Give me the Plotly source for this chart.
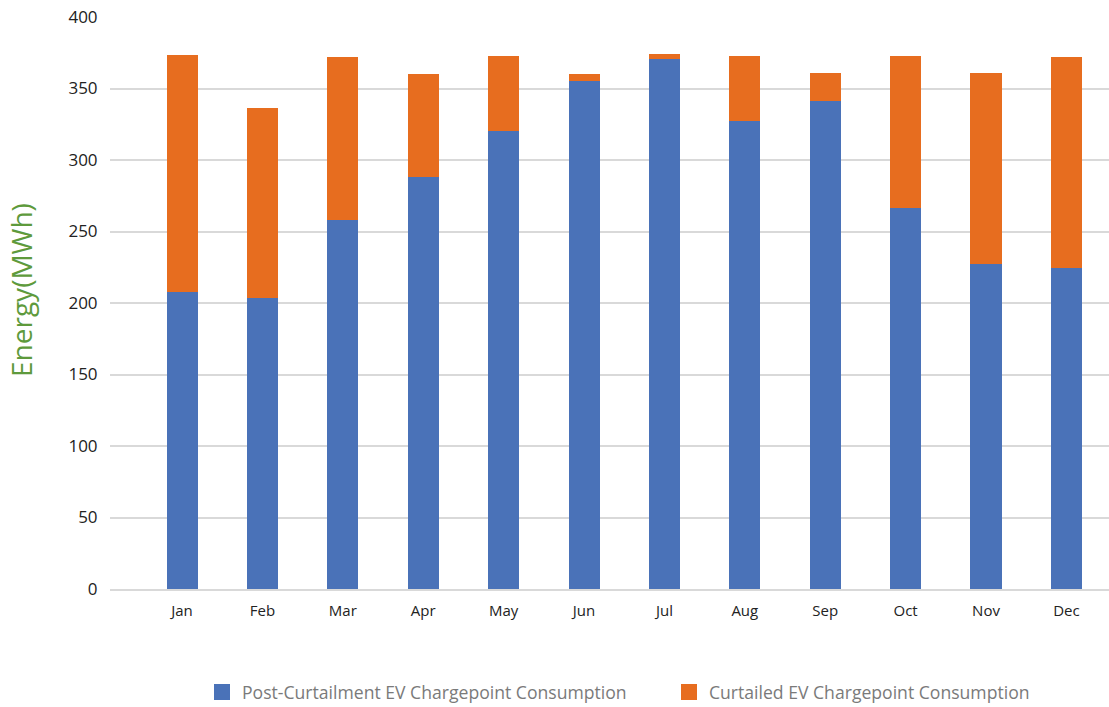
import plotly.graph_objects as go

months = ["Jan", "Feb", "Mar", "Apr", "May", "Jun",
          "Jul", "Aug", "Sep", "Oct", "Nov", "Dec"]
post_curtailment = [207.4, 203.2, 257.8, 287.9, 320.1, 355.4,
                    370.6, 327.1, 341.4, 266.2, 227.0, 224.2]
curtailed = [166.0, 133.1, 114.2, 72.2, 52.6, 4.7,
             3.5, 45.6, 19.4, 106.5, 133.8, 147.8]
y_ticks = [0, 50, 100, 150, 200, 250, 300, 350, 400]

series_names = ["Post-Curtailment EV Chargepoint Consumption",
                "Curtailed EV Chargepoint Consumption"]
BLUE = "#4A72B8"
ORANGE = "#E76D1F"
FONT = "Open Sans, Segoe UI, DejaVu Sans, sans-serif"

fig = go.Figure()
fig.add_trace(go.Bar(x=months, y=post_curtailment, name=series_names[0],
                     marker=dict(color=BLUE, line=dict(width=0)),
                     width=0.386, showlegend=False))
fig.add_trace(go.Bar(x=months, y=curtailed, name=series_names[1],
                     marker=dict(color=ORANGE, line=dict(width=0)),
                     width=0.386, showlegend=False))

# legend swatches as larger squares
for name, color in zip(series_names, [BLUE, ORANGE]):
    fig.add_trace(go.Scatter(x=[None], y=[None], mode="markers", name=name,
                             marker=dict(symbol="square", size=16, color=color)))

# vertical axis title
fig.add_annotation(text="Energy(MWh)", textangle=-90,
                   xref="paper", yref="paper", x=(21 - 110) / 999, y=(589 - 290) / 572,
                   xanchor="center", yanchor="middle", showarrow=False,
                   font=dict(size=28, color="#5E9A3C", family=FONT))

fig.update_layout(
    barmode="stack",
    width=1109, height=707,
    margin=dict(l=110, r=0, t=17, b=118, autoexpand=False),
    paper_bgcolor="white", plot_bgcolor="white",
    font=dict(family=FONT, color="#222222"),
    legend=dict(orientation="h", xref="container", yref="container",
                x=202 / 1109, xanchor="left", y=0.021, yanchor="middle",
                traceorder="normal", entrywidth=422, entrywidthmode="pixels",
                font=dict(size=17.6, color="#7a7a7a", family=FONT),
                itemsizing="trace", tracegroupgap=0),
    xaxis=dict(type="category", range=[-0.896, 11.53],
               showgrid=False, showline=True, linecolor="#d9d9d9", linewidth=2,
               ticks="outside", ticklen=7, tickcolor="rgba(0,0,0,0)",
               tickfont=dict(size=15, color="#222222"), fixedrange=True),
    yaxis=dict(range=[0, 400], tickvals=y_ticks, showgrid=True,
               gridcolor="#d9d9d9", gridwidth=1.5, zeroline=False,
               showline=False, ticks="outside", ticklen=8,
               tickcolor="rgba(0,0,0,0)",
               tickfont=dict(size=17, color="#222222")),
)

fig.write_html("out.html")
